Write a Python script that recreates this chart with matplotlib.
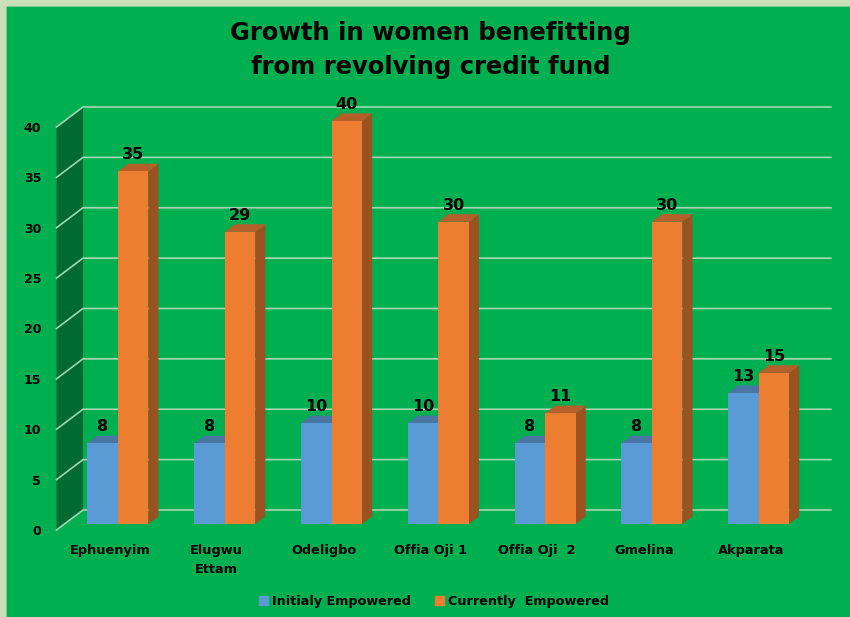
import matplotlib
matplotlib.use("Agg")
import matplotlib.pyplot as plt
from matplotlib.patches import Polygon, Rectangle

categories = ["Ephuenyim", "Elugwu\nEttam", "Odeligbo", "Offia Oji 1", "Offia Oji  2", "Gmelina", "Akparata"]
initial = [8, 8, 10, 10, 8, 8, 13]
current = [35, 29, 40, 30, 11, 30, 15]
y_ticks = [0, 5, 10, 15, 20, 25, 30, 35, 40]
series_names = ["Initialy Empowered", "Currently  Empowered"]

W, H = 850, 617
GREEN = "#00B050"
FONT = "DejaVu Sans"

# pixel layout of the front plane of the fake 3D box
PX_LEFT, PX_RIGHT, PX_BOTTOM, PX_TOP = 56.5, 804.5, 530, 127
PX_PER_CAT = 106.8
PX_CAT0 = 110

fig = plt.figure(figsize=(W / 100, H / 100), dpi=100, facecolor="#C9DFB9")
fig.add_artist(Rectangle((6 / W, 0), 1, 1 - 6 / H, transform=fig.transFigure,
                         facecolor=GREEN, edgecolor="#7FCF9A", linewidth=0.6, zorder=-1))

ax = fig.add_axes([PX_LEFT / W, 1 - PX_BOTTOM / H, (PX_RIGHT - PX_LEFT) / W, (PX_BOTTOM - PX_TOP) / H])
ax.patch.set_visible(False)
ax.set_xlim((PX_LEFT - PX_CAT0) / PX_PER_CAT, (PX_RIGHT - PX_CAT0) / PX_PER_CAT)
ax.set_ylim(0, 40)
for s in ax.spines.values():
    s.set_visible(False)

# depth of the box in data units
dx = 26.5 / PX_PER_CAT
dy = 20 / 10.075
bar_w = 30.5 / PX_PER_CAT
bar_front, bar_back = 0.3, 0.68


def proj(x, y, d):
    return (x + d * dx, y + d * dy)


x0, x1 = ax.get_xlim()
ax.add_patch(Polygon([proj(x0, 0, 0), proj(x0, 0, 1), proj(x0, 40, 1), proj(x0, 40, 0)],
                     facecolor="#006B30", edgecolor="none", zorder=1, clip_on=False))
for v in y_ticks:
    ax.plot(*zip(proj(x0, v, 0), proj(x0, v, 1), proj(x1, v, 1)),
            color="#A3D6B0", lw=1.2, zorder=2, clip_on=False, solid_joinstyle="miter")


def draw_bar(x, v, front, side, top):
    left, right = x, x + bar_w
    ax.add_patch(Polygon([proj(right, 0, bar_front), proj(right, 0, bar_back),
                          proj(right, v, bar_back), proj(right, v, bar_front)],
                         facecolor=side, edgecolor="none", zorder=3, clip_on=False))
    ax.add_patch(Polygon([proj(left, v, bar_front), proj(left, v, bar_back),
                          proj(right, v, bar_back), proj(right, v, bar_front)],
                         facecolor=top, edgecolor="none", zorder=3, clip_on=False))
    ax.add_patch(Polygon([proj(left, 0, bar_front), proj(right, 0, bar_front),
                          proj(right, v, bar_front), proj(left, v, bar_front)],
                         facecolor=front, edgecolor="none", zorder=4, clip_on=False))


def value_label(x, v):
    px, py = proj(x + bar_w / 2, v, bar_front)
    ax.annotate(str(v), (px, py), xytext=(0, 12), textcoords="offset points",
                ha="center", va="center", fontsize=11.5, fontweight="bold",
                family=FONT, color="black", zorder=6, annotation_clip=False)


for i, a in enumerate(initial):
    draw_bar(i - bar_w, a, "#5B9BD5", "#3F6E99", "#4A76A4")
for i, (a, b) in enumerate(zip(initial, current)):
    draw_bar(i, b, "#ED7D31", "#9C5220", "#B5602A")
    value_label(i - bar_w, a)
    value_label(i, b)

ax.set_yticks(y_ticks)
ax.set_xticks(range(len(categories)))
ax.set_xticklabels(categories, linespacing=1.6)
ax.tick_params(axis="both", length=0)
ax.tick_params(axis="y", pad=11)
ax.tick_params(axis="x", pad=10)
for t in ax.get_yticklabels():
    t.set(fontsize=9, fontweight="bold", family=FONT, color="black")
for t in ax.get_xticklabels():
    t.set(fontsize=9.3, fontweight="bold", family=FONT, color="black", ha="center")

fig.text(430.5 / W, 1 - 50 / H, "Growth in women benefitting\nfrom revolving credit fund",
         ha="center", va="center", fontsize=17.5, fontweight="bold", family=FONT,
         linespacing=1.5, color="black")

handles = [Rectangle((0, 0), 1, 1, color="#5B9BD5"), Rectangle((0, 0), 1, 1, color="#ED7D31")]
leg = fig.legend(handles, series_names, loc="center", bbox_to_anchor=(434 / W, 1 - 601 / H),
                 ncol=2, frameon=False, handlelength=0.7, handleheight=0.7, handletextpad=0.3,
                 columnspacing=1.9, prop={"family": FONT, "weight": "bold", "size": 9.2})

fig.savefig("out.png", dpi=100, facecolor=fig.get_facecolor())
plt.close(fig)
